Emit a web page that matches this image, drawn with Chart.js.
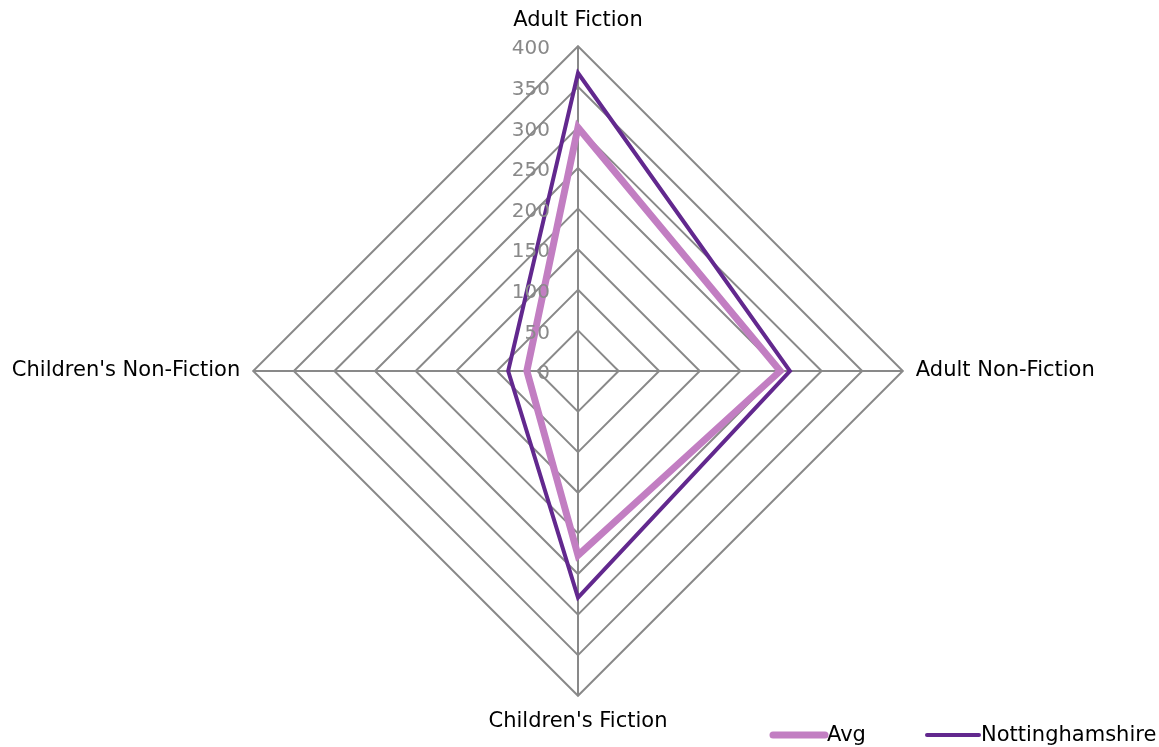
<!DOCTYPE html>
<html>
<head>
<meta charset="utf-8">
<script src="https://cdn.jsdelivr.net/npm/chart.js@4"></script>
<style>
  html, body { margin: 0; padding: 0; background: #fff; overflow: hidden; }
  #wrap { width: 1159px; height: 747px; position: relative; overflow: hidden; }
  /* canvas is a bit wider than the page so the left label does not push the centre */
  #myChart { position: absolute; left: -42px; top: 0; }
</style>
</head>
<body>
<div id="wrap"><canvas id="myChart" width="1240" height="747"></canvas></div>
<script>
// chart data
const categories = ["Adult Fiction", "Adult Non-Fiction", "Children's Fiction", "Children's Non-Fiction"];
const avgValues = [300, 249, 227, 63];
const nottsValues = [367, 261, 279, 86];
const tickValues = [0, 50, 100, 150, 200, 250, 300, 350, 400];

const gridGrey = "#898989";
const shiftX = 42; // canvas offset from page

// tick labels drawn left of the vertical axis, like the original
const tickLabelPlugin = {
  id: "tickLabels",
  afterDatasetsDraw(chart) {
    const scale = chart.scales.r;
    const ctx = chart.ctx;
    ctx.save();
    ctx.font = "20px 'DejaVu Sans'";
    ctx.fillStyle = gridGrey;
    ctx.textAlign = "right";
    ctx.textBaseline = "middle";
    tickValues.forEach(v => {
      const y = scale.yCenter - scale.getDistanceFromCenterForValue(v);
      ctx.fillText(String(v), scale.xCenter - 28, y + 3);
    });
    ctx.restore();
  }
};

// legend in the bottom right corner
const legendPlugin = {
  id: "cornerLegend",
  afterDraw(chart) {
    const ctx = chart.ctx;
    const y = 735;
    const starts = [771, 925];
    ctx.save();
    ctx.font = "21px 'DejaVu Sans'";
    ctx.textBaseline = "middle";
    ctx.textAlign = "left";
    chart.data.datasets.forEach((ds, i) => {
      const x = starts[i] + shiftX;
      ctx.strokeStyle = ds.borderColor;
      ctx.lineWidth = ds.borderWidth;
      ctx.lineCap = "round";
      ctx.beginPath();
      ctx.moveTo(x + 2, y);
      ctx.lineTo(x + 54, y);
      ctx.stroke();
      ctx.fillStyle = "#000";
      ctx.fillText(ds.label, x + 56, y + 1);
    });
    ctx.restore();
  }
};

const ctx = document.getElementById("myChart").getContext("2d");
new Chart(ctx, {
  type: "radar",
  data: {
    labels: categories,
    datasets: [
      {
        label: "Avg",
        data: avgValues,
        borderColor: "#C27EC2",
        backgroundColor: "#C27EC2",
        borderWidth: 7,
        borderJoinStyle: "miter",
        pointRadius: 0,
        fill: false
      },
      {
        label: "Nottinghamshire",
        data: nottsValues,
        borderColor: "#62288E",
        backgroundColor: "#62288E",
        borderWidth: 4,
        borderJoinStyle: "miter",
        pointRadius: 0,
        fill: false
      }
    ]
  },
  options: {
    responsive: false,
    animation: false,
    devicePixelRatio: 1,
    layout: { padding: { top: 9, bottom: 12, left: 0, right: 0 } },
    plugins: {
      legend: { display: false },
      tooltip: { enabled: false }
    },
    scales: {
      r: {
        min: 0,
        max: 400,
        ticks: { display: false, stepSize: 50 },
        grid: { color: gridGrey, lineWidth: 2 },
        angleLines: { color: gridGrey, lineWidth: 2 },
        pointLabels: {
          color: "#000",
          padding: 13,
          font: { family: "'DejaVu Sans'", size: 21 }
        }
      }
    }
  },
  plugins: [tickLabelPlugin, legendPlugin]
});
</script>
</body>
</html>
